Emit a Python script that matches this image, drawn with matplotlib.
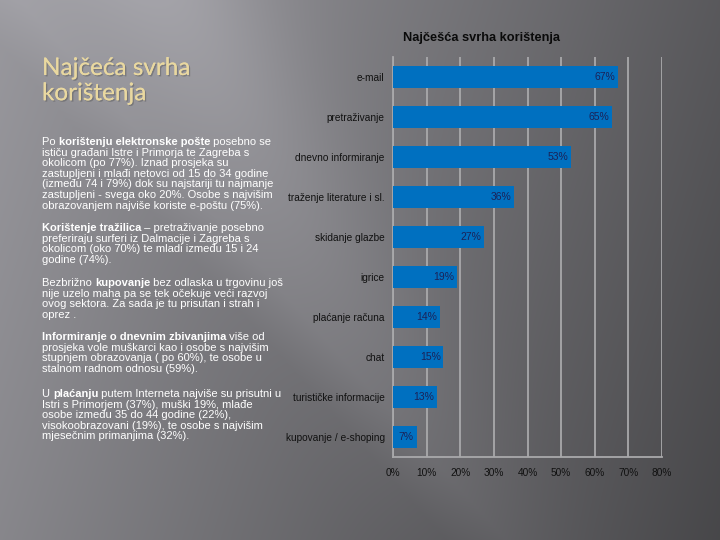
import numpy as np
import matplotlib
matplotlib.use("Agg")
import matplotlib.pyplot as plt
import matplotlib.patheffects as pe

# podaci
kategorije = ["e-mail", "pretraživanje", "dnevno informiranje", "traženje literature i sl.",
              "skidanje glazbe", "igrice", "plaćanje računa", "chat",
              "turističke informacije", "kupovanje / e-shoping"]
postotci = [67, 65, 53, 36, 27, 19, 14, 15, 13, 7]
x_ticks = [0, 10, 20, 30, 40, 50, 60, 70, 80]

naslov = "Najčeća svrha\nkorištenja"
naslov_grafa = "Najčešća svrha korištenja"

# odlomci: lista redaka, svaki redak = lista (tekst, bold)
odlomci = [
    [[("Po ", False), ("korištenju elektronske pošte", True), (" posebno se", False)],
     [("ističu građani Istre i Primorja te Zagreba s", False)],
     [("okolicom (po 77%). Iznad prosjeka su", False)],
     [("zastupljeni i mlađi netovci od 15 do 34 godine", False)],
     [("(između 74 i 79%) dok su najstariji tu najmanje", False)],
     [("zastupljeni - svega oko 20%. Osobe s najvišim", False)],
     [("obrazovanjem najviše koriste e-poštu (75%).", False)]],
    [[("Korištenje tražilica", True), (" – pretraživanje posebno", False)],
     [("preferiraju surferi iz Dalmacije i Zagreba s", False)],
     [("okolicom (oko 70%) te mladi između 15 i 24", False)],
     [("godine (74%).", False)]],
    [[("Bezbrižno ", False), ("kupovanje", True), (" bez odlaska u trgovinu još", False)],
     [("nije uzelo maha pa se tek očekuje veći razvoj", False)],
     [("ovog sektora. Za sada je tu prisutan i strah i", False)],
     [("oprez .", False)]],
    [[("Informiranje o dnevnim zbivanjima", True), (" više od", False)],
     [("prosjeka vole muškarci kao i osobe s najvišim", False)],
     [("stupnjem obrazovanja ( po 60%), te osobe u", False)],
     [("stalnom radnom odnosu (59%).", False)]],
    [[("U ", False), ("plaćanju", True), (" putem Interneta najviše su prisutni u", False)],
     [("Istri s Primorjem (37%), muški 19%, mlađe", False)],
     [("osobe između 35 do 44 godine (22%),", False)],
     [("visokoobrazovani (19%), te osobe s najvišim", False)],
     [("mjesečnim primanjima (32%).", False)]],
]
odlomak_y = [137, 223, 278, 332, 389]

fig = plt.figure(figsize=(7.2, 5.4), dpi=100)

# pozadina (sivi gradijent)
bg = fig.add_axes([0, 0, 1, 1])
yy, xx = np.mgrid[0:540, 0:720]
v = 0.64 - 0.29 * (xx / 720) - 0.07 * (yy / 540)
d = (xx - 180 - yy * 0.55) / 90.0
v += 0.07 * np.exp(-d ** 2) * (1 - yy / 700)
d2 = (xx - 20 - yy * 0.9) / 60.0
v -= 0.04 * (d2 < 0) * np.clip(-d2, 0, 1)
img = np.dstack([v, v * 0.995, v * 1.03])
bg.imshow(np.clip(img, 0, 1), extent=(0, 720, 540, 0), aspect="auto")
bg.set_xlim(0, 720)
bg.set_ylim(540, 0)
bg.axis("off")

# naslov lijevo
bg.text(42, 58, naslov, color="#e9d8a0", fontsize=17.5, family="Lato",
        va="top", linespacing=1.25,
        path_effects=[pe.withSimplePatchShadow(offset=(1, -1), shadow_rgbFace="#555555", alpha=0.45),
                      pe.Normal()])

# tekst lijevo
pitch = 10.6
for y0, odl in zip(odlomak_y, odlomci):
    for i, redak in enumerate(odl):
        y = y0 + i * pitch
        t = None
        for s, b in redak:
            kw = dict(color="white", fontsize=8.0, family="Liberation Sans",
                      fontweight="bold" if b else "normal")
            if t is None:
                t = bg.text(42, y, s, va="top", ha="left", **kw)
            else:
                t = bg.annotate(s, xy=(1, 0), xycoords=t, va="bottom", ha="left", **kw)

# graf
ax = fig.add_axes([393 / 720, 1 - 457 / 540, (662 - 393) / 720, 400 / 540])
ax.set_facecolor("none")
ypos = np.arange(len(kategorije))
ax.barh(ypos, postotci, height=0.55, color="#0070c0", zorder=3)
for y, p in zip(ypos, postotci):
    ax.text(p - 0.8, y, f"{p}%", ha="right", va="center", color="#1b2258",
            fontsize=7.5, family="Liberation Sans", zorder=4)
ax.set_xlim(0, 80)
ax.set_ylim(len(kategorije) - 0.5, -0.5)
ax.set_xticks(x_ticks)
ax.set_xticklabels([f"{t}%" for t in x_ticks])
ax.set_yticks(ypos)
ax.set_yticklabels(kategorije)
ax.xaxis.grid(True, color="#a9a9ab", linewidth=1.3, zorder=1)
ax.tick_params(length=0, labelsize=7.3, labelcolor="#111111")
ax.tick_params(axis="y", pad=6)
ax.tick_params(axis="x", pad=8)
for lab in ax.get_xticklabels() + ax.get_yticklabels():
    lab.set_family("Liberation Sans")
for s in ["top", "right"]:
    ax.spines[s].set_visible(False)
for s in ["left", "bottom"]:
    ax.spines[s].set_color("#a9a9ab")
    ax.spines[s].set_linewidth(1.3)

fig.text(482 / 720, 1 - 38 / 540, naslov_grafa, ha="center", va="center",
         fontsize=9.2, fontweight="bold", family="Liberation Sans", color="#0a0a0a")

fig.savefig("out.png", dpi=100)
